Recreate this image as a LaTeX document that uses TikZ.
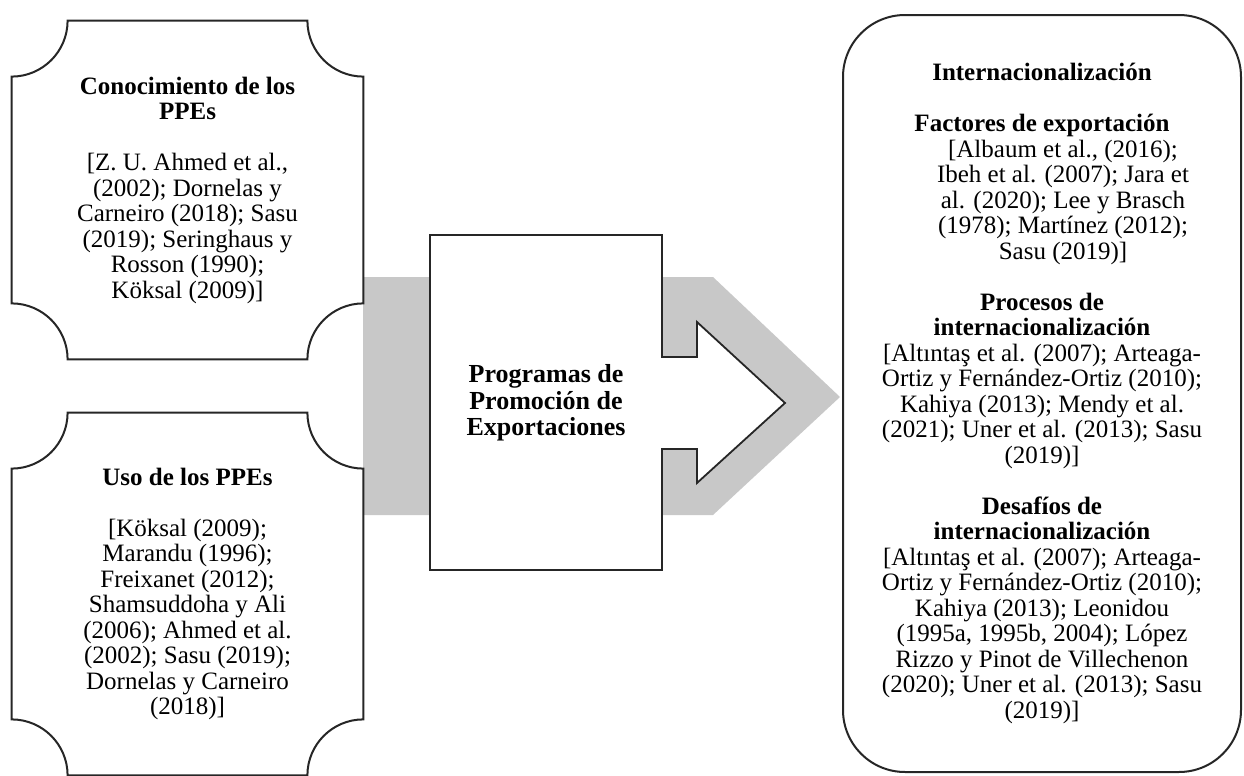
\documentclass[tikz,border=0pt]{standalone}
\usepackage{fontspec}
\setmainfont{Liberation Serif}
\usepackage{tikz}
\definecolor{colorBand}{RGB}{200,200,200}
\colorlet{colorLine}{black!85}
\usetikzlibrary{calc}
\usetikzlibrary{positioning}
\usetikzlibrary{backgrounds}
\tikzset{
   every path/.style={>=stealth},
   txt/.style={align=center,inner sep=0pt,font=\fontsize{12.5}{12.75}\selectfont},
   plaque/.style={txt,minimum width=175.5pt,minimum height=#1},
   plaqueline/.style={draw=colorLine,line width=1pt},
   band/.style={fill=colorBand,draw=none},
   prog/.style={draw=colorLine,line width=0.9pt,fill=white},
   progtxt/.style={txt,font=\fontsize{13}{13.25}\selectfont\bfseries},
   outcome/.style={txt,draw=colorLine,line width=1pt,rounded corners=31pt,
      minimum width=199pt,minimum height=378.5pt},
}
\newcommand{\plqR}{28pt}
\newcommand{\ind}{\hspace*{21pt}}
\newcommand{\drawplaque}[1]{%
  \draw[plaqueline] ($(#1.north west)+(\plqR,0)$) -- ($(#1.north east)-(\plqR,0)$)
     arc[start angle=180,end angle=270,radius=\plqR]
     -- ($(#1.south east)+(0,\plqR)$)
     arc[start angle=90,end angle=180,radius=\plqR]
     -- ($(#1.south west)+(\plqR,0)$)
     arc[start angle=0,end angle=90,radius=\plqR]
     -- ($(#1.north west)-(0,\plqR)$)
     arc[start angle=270,end angle=360,radius=\plqR] -- cycle;}
\begin{document}
\begin{tikzpicture}[x=0.5pt,y=-0.5pt]
        \useasboundingbox (0,0) rectangle (1244,776);

        \node[plaque=169pt] (conoc) at (187.5, 190) {\textbf{Conocimiento de los}\\\textbf{PPEs}\\[12.75pt]
           {[}Z. U. Ahmed et al.,\\(2002); Dornelas y\\Carneiro (2018); Sasu\\(2019); Seringhaus y\\Rosson (1990);\\Köksal (2009)]};
        \node[plaque=181pt] (uso) at (187.5, 594) {\textbf{Uso de los PPEs}\\[12.75pt]
           {[}Köksal (2009);\\Marandu (1996);\\Freixanet (2012);\\Shamsuddoha y Ali\\(2006); Ahmed et al.\\(2002); Sasu (2019);\\Dornelas y Carneiro\\(2018)]};

        \node[progtxt] (ppe) at (546, 403) {Programas de\\Promoción de\\Exportaciones};

        \node[outcome] (inter) at (1042, 393.5) {\textbf{Internacionalización}\\[12.75pt]
           \textbf{Factores de exportación}\\
           \ind{[}Albaum et al., (2016);\\\ind Ibeh et al. (2007); Jara et\\\ind al. (2020); Lee y Brasch\\
           \ind(1978); Martínez (2012);\\\ind Sasu (2019)]\\[12.75pt]
           \textbf{Procesos de}\\\textbf{internacionalización}\\
           {[}Altıntaş et al. (2007); Arteaga-\\Ortiz y Fernández-Ortiz (2010);\\Kahiya (2013); Mendy et al.\\
           (2021); Uner et al. (2013); Sasu\\(2019)]\\[12.75pt]
           \textbf{Desafíos de}\\\textbf{internacionalización}\\
           {[}Altıntaş et al. (2007); Arteaga-\\Ortiz y Fernández-Ortiz (2010);\\Kahiya (2013); Leonidou\\
           (1995a, 1995b, 2004); López\\Rizzo y Pinot de Villechenon\\(2020); Uner et al. (2013); Sasu\\(2019)]};

        \drawplaque{conoc}
        \drawplaque{uso}

        \begin{scope}[on background layer]
          \fill[band] (363, 277) -- (713, 277) -- (840, 397) -- (713, 515) -- (363, 515) -- cycle;
          \draw[prog] (430, 235) -- (662, 235) -- (662, 357) -- (697, 357) -- (697, 322)
             -- (785, 403) -- (697, 483) -- (697, 449) -- (662, 449) -- (662, 570) -- (430, 570) -- cycle;
        \end{scope}
      \end{tikzpicture}
\end{document}
